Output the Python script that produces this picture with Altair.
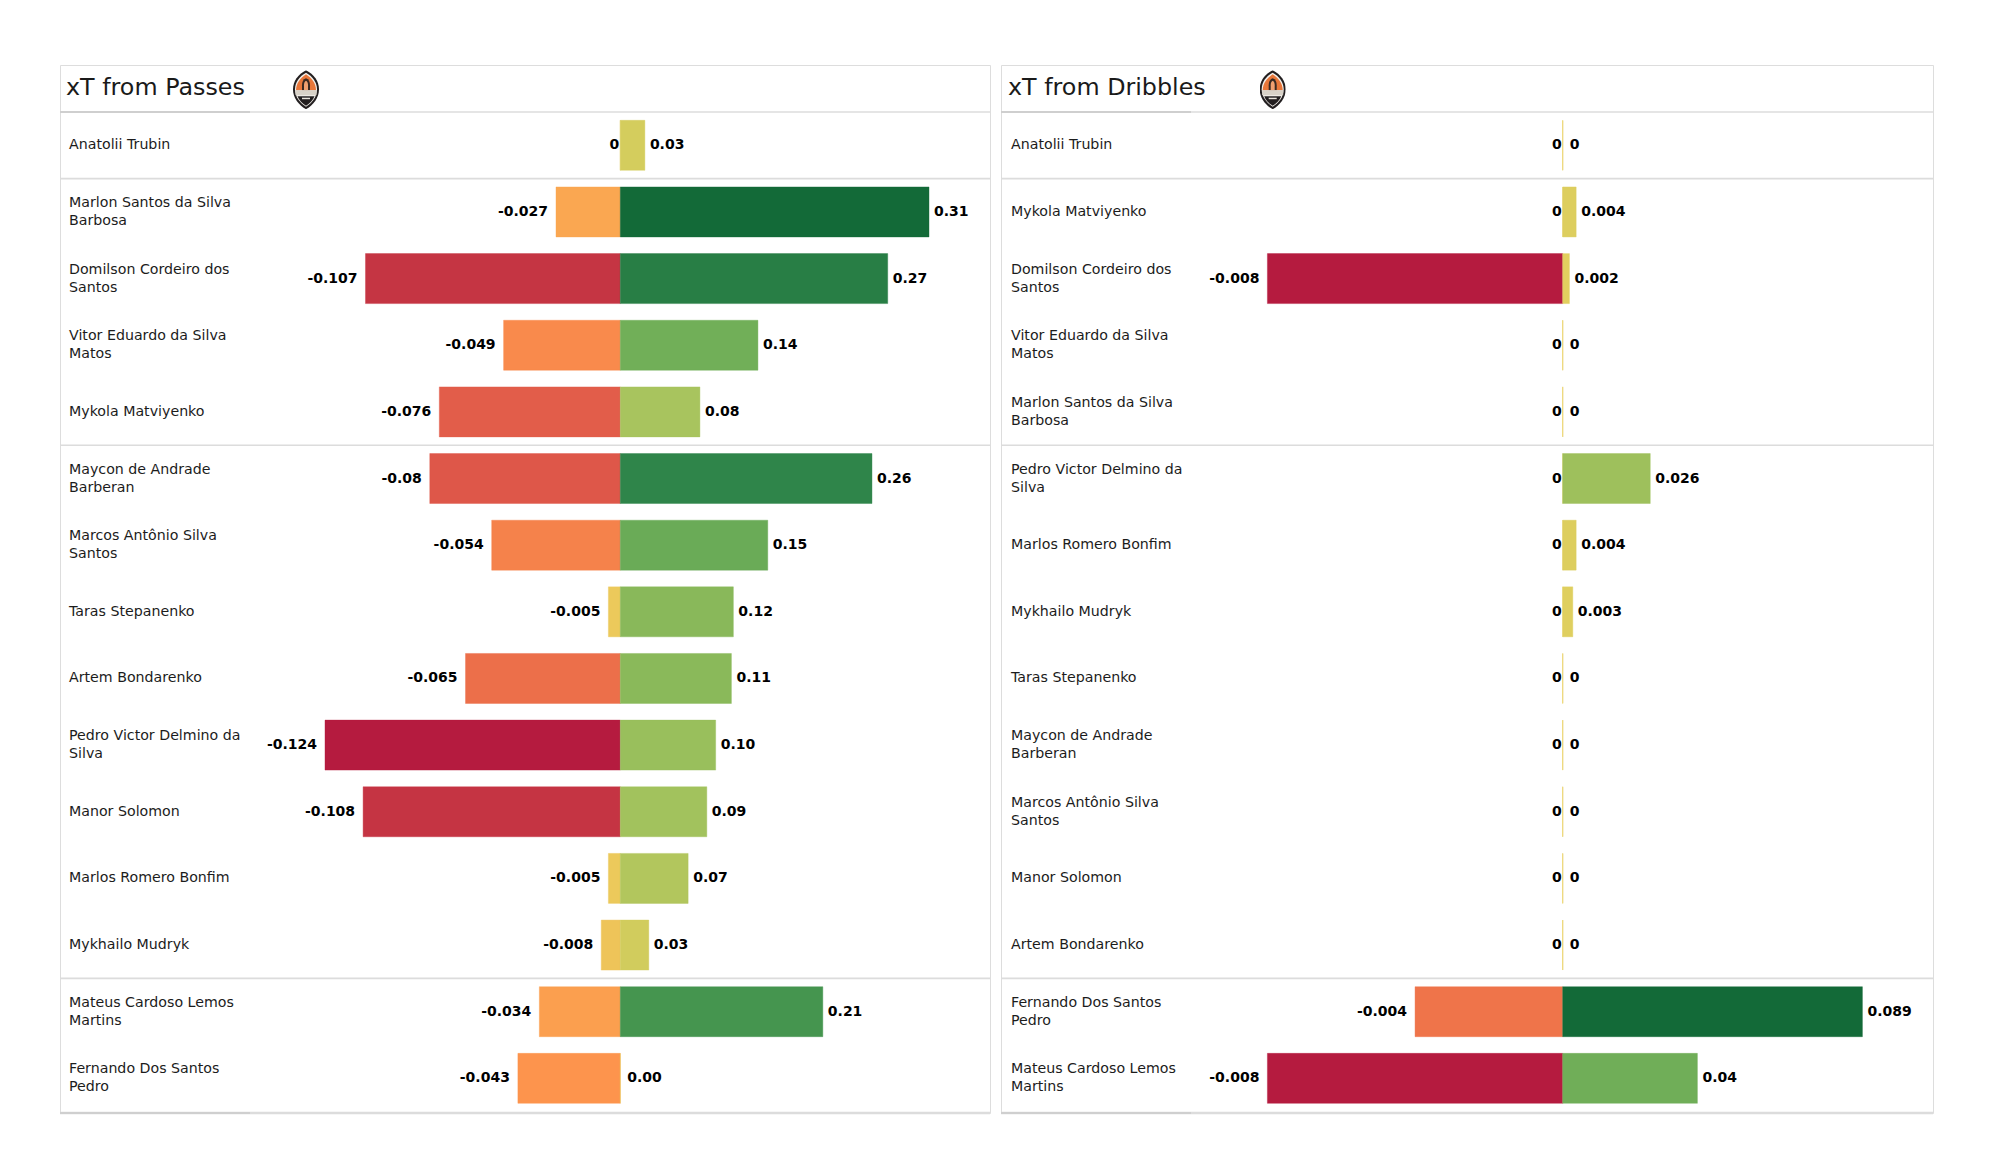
import base64
import altair as alt
import pandas as pd

# ---- values ----
pass_names = ["Anatolii Trubin", "Marlon Santos da Silva\nBarbosa", "Domilson Cordeiro dos\nSantos",
              "Vitor Eduardo da Silva\nMatos", "Mykola Matviyenko", "Maycon de Andrade\nBarberan",
              "Marcos Antônio Silva\nSantos", "Taras Stepanenko", "Artem Bondarenko",
              "Pedro Victor Delmino da\nSilva", "Manor Solomon", "Marlos Romero Bonfim",
              "Mykhailo Mudryk", "Mateus Cardoso Lemos\nMartins", "Fernando Dos Santos\nPedro"]
pass_neg = [0, -0.027, -0.107, -0.049, -0.076, -0.08, -0.054, -0.005, -0.065, -0.124, -0.108, -0.005, -0.008, -0.034, -0.043]
pass_neg_text = ["0", "-0.027", "-0.107", "-0.049", "-0.076", "-0.08", "-0.054", "-0.005", "-0.065", "-0.124", "-0.108", "-0.005", "-0.008", "-0.034", "-0.043"]
pass_pos = [0.025, 0.314, 0.272, 0.140, 0.081, 0.256, 0.150, 0.115, 0.113, 0.097, 0.088, 0.069, 0.029, 0.206, 0.0]
pass_pos_text = ["0.03", "0.31", "0.27", "0.14", "0.08", "0.26", "0.15", "0.12", "0.11", "0.10", "0.09", "0.07", "0.03", "0.21", "0.00"]

drib_names = ["Anatolii Trubin", "Mykola Matviyenko", "Domilson Cordeiro dos\nSantos",
              "Vitor Eduardo da Silva\nMatos", "Marlon Santos da Silva\nBarbosa", "Pedro Victor Delmino da\nSilva",
              "Marlos Romero Bonfim", "Mykhailo Mudryk", "Taras Stepanenko", "Maycon de Andrade\nBarberan",
              "Marcos Antônio Silva\nSantos", "Manor Solomon", "Artem Bondarenko",
              "Fernando Dos Santos\nPedro", "Mateus Cardoso Lemos\nMartins"]
drib_neg = [0, 0, -0.008, 0, 0, 0, 0, 0, 0, 0, 0, 0, 0, -0.004, -0.008]
drib_neg_text = ["0", "0", "-0.008", "0", "0", "0", "0", "0", "0", "0", "0", "0", "0", "-0.004", "-0.008"]
drib_pos = [0, 0.004, 0.002, 0, 0, 0.026, 0.004, 0.003, 0, 0, 0, 0, 0, 0.089, 0.04]
drib_pos_text = ["0", "0.004", "0.002", "0", "0", "0.026", "0.004", "0.003", "0", "0", "0", "0", "0", "0.089", "0.04"]

group_lines = [0, 1, 5, 13]

color_stops = [-1, -0.62, -0.35, -0.2, 0, 0.26, 0.45, 0.66, 0.83, 1]
color_range = ["#b51b3f", "#e15b4a", "#fd944d", "#f9aa52", "#e8d060", "#a8c45e", "#70ae58", "#44954f", "#2d8449", "#136a38"]

BORDER = "#e0e0e0"
FONT = "DejaVu Sans"
HEIGHT = 1048
Y_DOMAIN = [15.02, -0.705]

logo_svg = """<svg xmlns='http://www.w3.org/2000/svg' viewBox='0 0 26 39'>
<path d='M13 0C5 4 0 11 0 19C0 28 6 35 13 39C20 35 26 28 26 19C26 11 21 4 13 0Z' fill='#231f20'/>
<path d='M13 2.5C6.500 6 2 12 2 19C2 27 7.500 33 13 36.500C18.500 33 24 27 24 19C24 12 19.500 6 13 2.500Z' fill='#f4f1ec'/>
<path d='M13 4C7.500 7.500 3 13 3 20L23 20C23 13 18.500 7.500 13 4Z' fill='#e8773a'/>
<path d='M13 8C10 9 9 12 9 15L9 20L17 20L17 15C17 12 16 9 13 8Z' fill='#3a2a22'/>
<path d='M13 10.500C11.500 11 11 13 11 15L11 20L15 20L15 15C15 13 14.500 11 13 10.500Z' fill='#f0a070'/>
<rect x='2.500' y='20' width='21' height='5' fill='#d8d2c8'/>
<path d='M4.500 26L21.500 26C20 30 17 33 13 35.500C9 33 6 30 4.500 26Z' fill='#231f20'/>
<rect x='9' y='27.500' width='8' height='1.500' fill='#e8e4dc'/>
</svg>"""
logo_uri = "data:image/svg+xml;base64," + base64.b64encode(logo_svg.encode()).decode()


def panel(title, names, neg, neg_text, pos, pos_text, width, zero_px, neg_px, pos_px, title_x, name_x, logo_x):
    """zero_px: where zero sits in the panel; neg_px / pos_px: length of the longest bar on each side."""
    neg_max = max(abs(v) for v in neg)
    pos_max = max(pos)
    df = pd.DataFrame({
        "row": list(range(len(names))),
        "name": names,
        "neg": neg,
        "neg_text": neg_text,
        "pos": pos,
        "pos_text": pos_text,
    })
    df["top"] = df["row"] + 0.125
    df["bottom"] = df["row"] + 0.875
    df["mid"] = df["row"] + 0.5
    df["neg_norm"] = df["neg"] / neg_max
    df["pos_norm"] = df["pos"] / pos_max
    df["zero"] = 0.0
    df["two_lines"] = df["name"].str.contains("\n")

    yq = alt.Y("top:Q", scale=alt.Scale(domain=Y_DOMAIN, nice=False, zero=False), axis=None)
    ymid = alt.Y("mid:Q", scale=alt.Scale(domain=Y_DOMAIN, nice=False, zero=False), axis=None)
    neg_k = neg_px / neg_max
    pos_k = pos_px / pos_max
    neg_scale = alt.Scale(domain=[-zero_px / neg_k, (width - zero_px) / neg_k], nice=False, zero=False)
    pos_scale = alt.Scale(domain=[-zero_px / pos_k, (width - zero_px) / pos_k], nice=False, zero=False)
    color_scale = alt.Scale(domain=color_stops, range=color_range)

    base = alt.Chart(df)

    def bar(field, norm, scale):
        return base.mark_bar(strokeWidth=1, strokeOpacity=0.4).encode(
            x=alt.X(f"{field}:Q", scale=scale, axis=None),
            x2=alt.X2("zero:Q"),
            y=yq,
            y2=alt.Y2("bottom:Q"),
            color=alt.Color(f"{norm}:Q", scale=color_scale, legend=None),
            stroke=alt.Stroke(f"{norm}:Q", scale=color_scale, legend=None),
        )

    def label(field, text, scale, align, dx, keep):
        return base.transform_filter(keep).mark_text(
            align=align, baseline="middle", dx=dx, font=FONT, fontSize=14, fontWeight="bold", color="#000000"
        ).encode(
            x=alt.X(f"{field}:Q", scale=scale, axis=None),
            y=ymid,
            text=alt.Text(f"{text}:N"),
        )

    def name_text(keep, dy):
        return base.transform_filter(keep).mark_text(
            align="left", baseline="middle", dy=dy, font=FONT, fontSize=14.2, lineHeight=18, lineBreak="\n",
            color="#1c1c1c"
        ).encode(x=alt.value(name_x), y=ymid, text="name:N")

    lines = alt.Chart(pd.DataFrame({"v": group_lines})).mark_rule(color="#dcdcdc", strokeWidth=1.6).encode(
        y=alt.Y("v:Q", scale=alt.Scale(domain=Y_DOMAIN, nice=False, zero=False), axis=None)
    )
    bottom = alt.Chart(pd.DataFrame({"v": [15.02]})).mark_rule(color="#dcdcdc", strokeWidth=2.4).encode(
        y=alt.Y("v:Q", scale=alt.Scale(domain=Y_DOMAIN, nice=False, zero=False), axis=None)
    )
    short = alt.Chart(pd.DataFrame({"v": [0, 15.02]})).mark_rule(color="#cfcfcf", strokeWidth=2).encode(
        x=alt.value(0), x2=alt.value(190),
        y=alt.Y("v:Q", scale=alt.Scale(domain=Y_DOMAIN, nice=False, zero=False), axis=None),
    )
    title_layer = alt.Chart(pd.DataFrame({"t": [title]})).mark_text(
        align="left", baseline="middle", font=FONT, fontSize=23.8, color="#1a1a1a"
    ).encode(x=alt.value(title_x), y=alt.value(22.5), text="t:N")
    logo = alt.Chart(pd.DataFrame({"u": [logo_uri]})).mark_image(width=26, height=39).encode(
        url="u:N", x=alt.value(logo_x), y=alt.value(24.7)
    )

    return alt.layer(
        lines, bottom, short,
        bar("neg", "neg_norm", neg_scale),
        bar("pos", "pos_norm", pos_scale),
        name_text("!datum.two_lines", 0),
        name_text("datum.two_lines", -9),
        label("neg", "neg_text", neg_scale, "right", -8, "datum.neg != 0"),
        label("neg", "neg_text", neg_scale, "right", -1, "datum.neg == 0"),
        label("pos", "pos_text", pos_scale, "left", 5, "datum.pos != 0"),
        label("pos", "pos_text", pos_scale, "left", 7, "datum.pos == 0"),
        title_layer,
        logo,
    ).resolve_scale(x="independent").properties(width=width, height=HEIGHT)


left = panel("xT from Passes", pass_names, pass_neg, pass_neg_text, pass_pos, pass_pos_text,
             930, 560.3, 295.3, 308.7, 6, 9, 246)
right = panel("xT from Dribbles", drib_names, drib_neg, drib_neg_text, drib_pos, drib_pos_text,
              932, 561.7, 295.3, 299.7, 7, 10, 271.7)

chart = alt.hconcat(left, right, spacing=7).properties(
    padding={"left": 50, "top": 56, "right": 0, "bottom": 0}
).configure_view(stroke=BORDER, strokeWidth=1.6).configure(background="#ffffff")

chart.save("out.html", embed_options={"renderer": "svg", "actions": False})
